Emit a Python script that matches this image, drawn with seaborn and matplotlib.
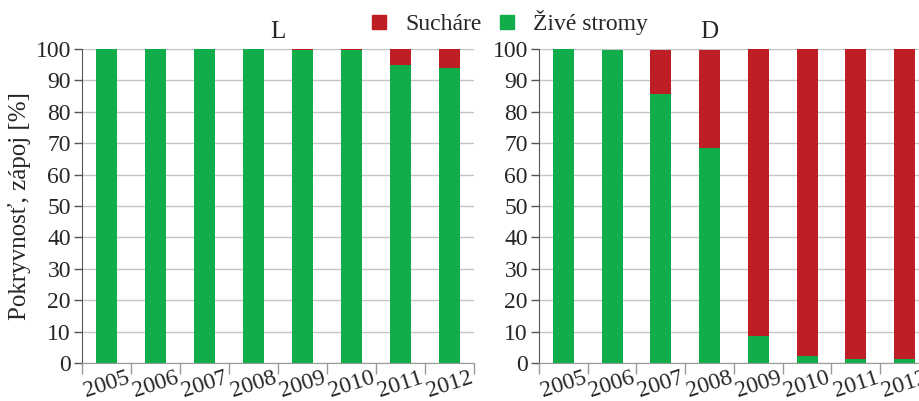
import pandas as pd
import seaborn as sns
import matplotlib.pyplot as plt
from matplotlib.lines import Line2D

# Values (percent)
years = ['2005', '2006', '2007', '2008', '2009', '2010', '2011', '2012']
live_L = [100, 100, 100, 100, 99.7, 99.6, 95, 93.8]
dead_L = [0, 0, 0, 0, 0.3, 0.4, 5, 6.2]
live_D = [100, 99.6, 85.8, 68.4, 8.6, 2.3, 1.3, 1.3]
dead_D = [0, 0, 13.8, 31.2, 91.4, 97.7, 98.7, 98.7]

red = '#bd1f24'
green = '#12ad4b'

sns.set_style("white")
plt.rcParams['font.family'] = ['Liberation Serif', 'DejaVu Serif']

fig = plt.figure(figsize=(9.2, 4.01), dpi=100)
ax_l = fig.add_axes([82 / 920, 38 / 401, 392 / 920, 314 / 401])
ax_r = fig.add_axes([539 / 920, 38 / 401, 390 / 920, 314 / 401])

panels = [(ax_l, 'L', live_L, dead_L, 0.5), (ax_r, 'D', live_D, dead_D, 0.436)]
for ax, title, live, dead, tx in panels:
    df = pd.DataFrame({'year': years, 'live': live,
                       'total': [a + b for a, b in zip(live, dead)]})
    sns.barplot(x='year', y='total', data=df, color=red, width=0.43,
                saturation=1, linewidth=0, ax=ax, zorder=3)
    sns.barplot(x='year', y='live', data=df, color=green, width=0.43,
                saturation=1, linewidth=0, ax=ax, zorder=4)
    ax.set_ylim(0, 100)
    ax.set_xlim(-0.5, 7.5)
    ax.set_yticks(range(0, 101, 10))
    ax.tick_params(axis='y', labelsize=17, length=6, width=1, color='#555555',
                   left=True, pad=2)
    ax.yaxis.grid(True, color='#c4c4c4', lw=1, zorder=0)
    ax.set_axisbelow(True)
    ax.set_xticks(range(8))
    ax.set_xticklabels(years, rotation=18, fontsize=17)
    ax.tick_params(axis='x', which='major', length=0, pad=3)
    ax.set_xticks([i - 0.5 for i in range(9)], minor=True)
    ax.tick_params(axis='x', which='minor', length=8, width=1, color='#999999',
                   bottom=True)
    for s in ['top', 'right']:
        ax.spines[s].set_visible(False)
    ax.spines['left'].set_color('#555555')
    ax.spines['bottom'].set_color('#999999')
    ax.set_xlabel('')
    ax.set_ylabel('')
    ax.set_title(title, fontsize=18, x=tx, pad=8)

ax_l.set_ylabel('Pokryvnosť, zápoj [%]', fontsize=18, labelpad=3)

handles = [Line2D([], [], marker='s', ls='', color=red, markersize=10),
           Line2D([], [], marker='s', ls='', color=green, markersize=10)]
fig.legend(handles, ['Sucháre', 'Živé stromy'], loc='center',
           bbox_to_anchor=(0.552, 0.943), ncol=2, frameon=False, fontsize=17,
           handletextpad=0.6, columnspacing=0.6, handlelength=1.0)

plt.savefig('out.png', dpi=100)
